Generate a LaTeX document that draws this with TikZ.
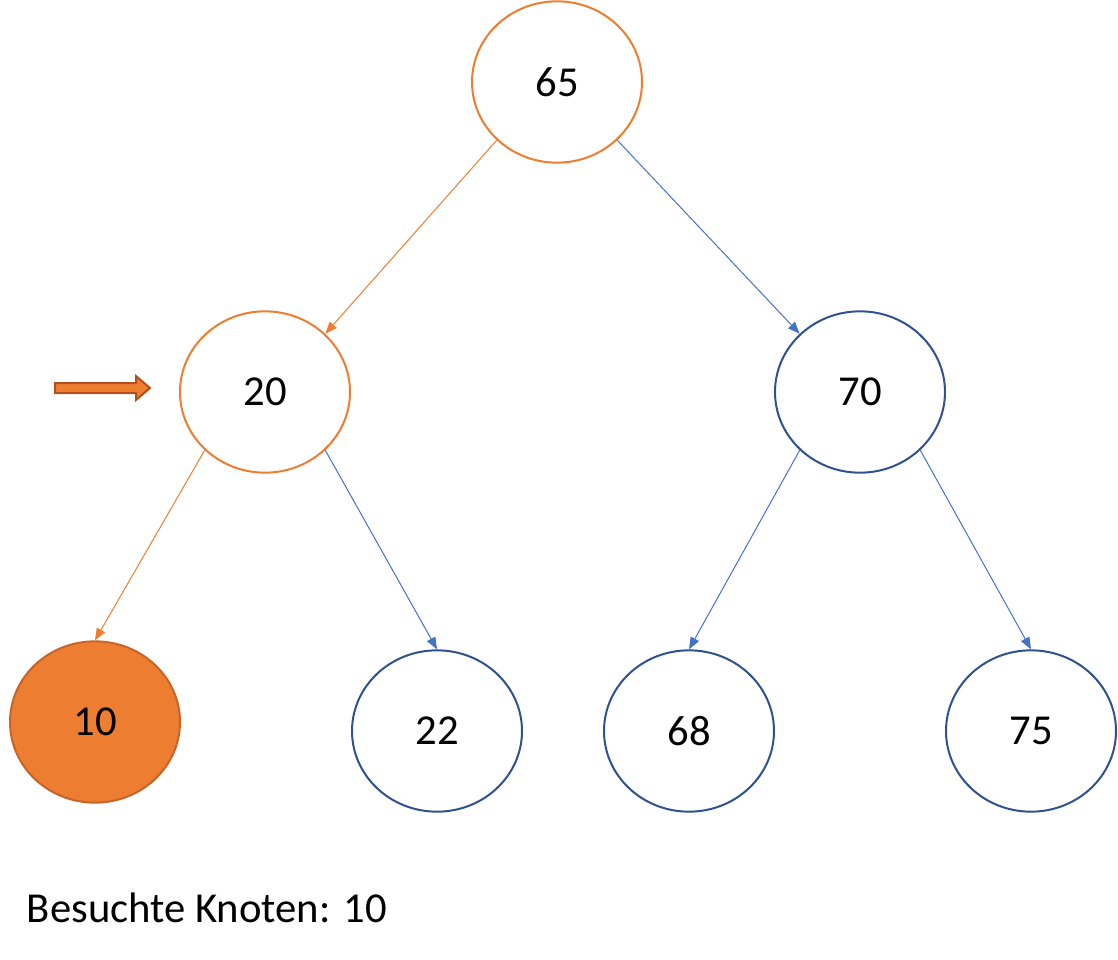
\documentclass[tikz,border=0pt]{standalone}
\usepackage{fontspec}
\setmainfont{Carlito}
\usetikzlibrary{shapes.geometric,arrows.meta}
\definecolor{orng}{RGB}{237,125,49}
\definecolor{dblue}{RGB}{47,82,143}
\definecolor{lblue}{RGB}{68,114,196}
\tikzset{every picture/.style={line width=0.75pt}}
\begin{document}
\begin{tikzpicture}[x=0.75pt,y=0.75pt,yscale=-1,xscale=1,
  knot/.style={ellipse,draw=dblue,line width=1.5pt,minimum width=127.5pt,minimum height=121pt,font=\fontsize{32}{34}\selectfont},
  pfad/.style={draw=orng,-{Triangle[length=9pt,width=7pt]}},
  kante/.style={draw=lblue,-{Triangle[length=9pt,width=7pt]}}]
	\useasboundingbox (0,0) rectangle (1118,960);

	% Knoten
	\node [knot,draw=orng] (k65) at (557,82) {65};
	\node [knot,draw=orng] (k20) at (265,392) {20};
	\node [knot] (k70) at (860,392) {70};
	\node [knot,draw={rgb,255:red,200;green,100;blue,40},fill=orng] (k10) at (95,722) {10};
	\node [knot] (k22) at (437,731) {22};
	\node [knot] (k68) at (689,731) {68};
	\node [knot] (k75) at (1031,731) {75};

	% Kanten
	\draw [pfad] (k65.224) -- (k20.44);
	\draw [kante] (k65.316) -- (k70.136);
	\draw [pfad] (k20.224) -- (k10.north);
	\draw [kante] (k20.316) -- (k22.north);
	\draw [kante] (k70.224) -- (k68.north);
	\draw [kante] (k70.316) -- (k75.north);

	% Zeiger
	\draw [draw={rgb,255:red,180;green,80;blue,30},fill=orng,line width=1.5pt] (55,383) -- (136,383) -- (136,376) -- (150,388) -- (136,400) -- (136,393) -- (55,393) -- cycle;

	% Text
	\node [anchor=west,font=\fontsize{32}{34}\selectfont] (besucht) at (22,908) {Besuchte Knoten: 10};
\end{tikzpicture}
\end{document}
